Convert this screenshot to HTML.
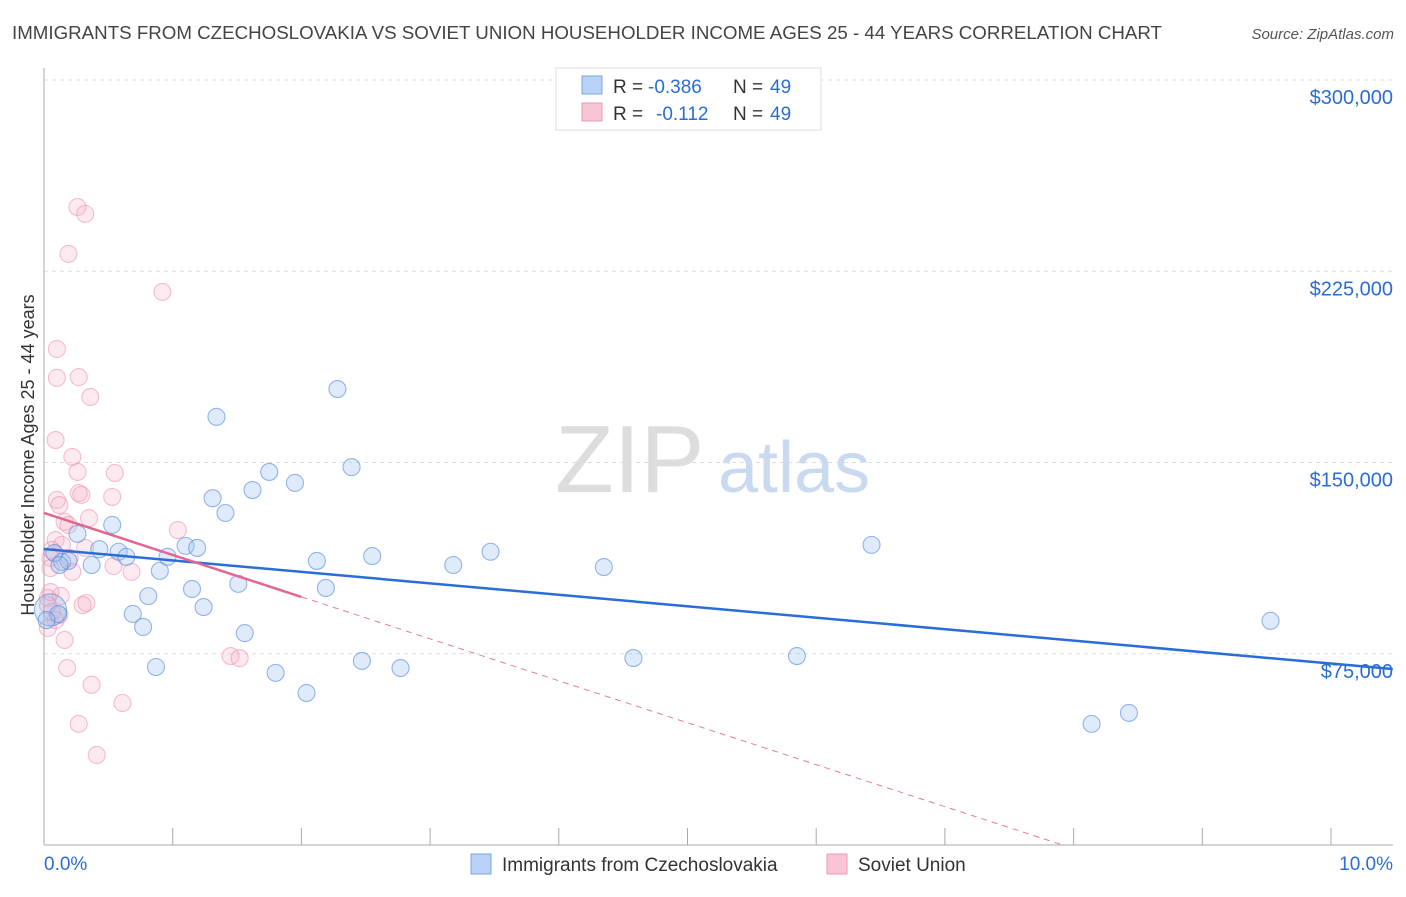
<!DOCTYPE html>
<html><head><meta charset="utf-8"><style>
body{margin:0;background:#fff;font-family:"Liberation Sans",sans-serif;}
svg text{font-family:"Liberation Sans",sans-serif;}
</style></head><body>
<svg id="c" width="1406" height="892" xmlns="http://www.w3.org/2000/svg">
<text x="12" y="39" font-size="18" fill="#444" textLength="1150" lengthAdjust="spacingAndGlyphs">IMMIGRANTS FROM CZECHOSLOVAKIA VS SOVIET UNION HOUSEHOLDER INCOME AGES 25 - 44 YEARS CORRELATION CHART</text>
<text x="1394" y="39" font-size="15" fill="#555" text-anchor="end" font-style="italic">Source: ZipAtlas.com</text>
<text x="555" y="492" font-size="96" fill="#ddd" font-family="Liberation Serif">ZIP</text>
<text x="718" y="492" font-size="72" fill="#c9daf0">atlas</text>
<text transform="translate(34,455) rotate(-90)" font-size="18" fill="#333" text-anchor="middle">Householder Income Ages 25 - 44 years</text>
<g id="grid"></g><g id="marks"></g>
<g>
<rect x="556" y="68" width="265" height="62" fill="#fff" stroke="#ddd"/>
<rect x="582" y="76" width="20" height="18" fill="#b8d3f5" stroke="#7aa6e0"/>
<rect x="582" y="103" width="20" height="18" fill="#f9c5d5" stroke="#eb9ab4"/>
<text x="613" y="93" font-size="19" fill="#333">R =</text>
<text x="648" y="93" font-size="19" fill="#2a6dd6">-0.386</text>
<text x="733" y="93" font-size="19" fill="#333">N =</text>
<text x="770" y="93" font-size="19" fill="#2a6dd6">49</text>
<text x="613" y="120" font-size="19" fill="#333">R =</text>
<text x="656" y="120" font-size="19" fill="#2a6dd6">-0.112</text>
<text x="733" y="120" font-size="19" fill="#333">N =</text>
<text x="770" y="120" font-size="19" fill="#2a6dd6">49</text>
</g>
<g>
<rect x="471" y="854" width="20" height="20" fill="#b8d3f5" stroke="#7aa6e0"/>
<text x="502" y="871" font-size="19" fill="#333">Immigrants from Czechoslovakia</text>
<rect x="827" y="854" width="20" height="20" fill="#f9c5d5" stroke="#eb9ab4"/>
<text x="858" y="871" font-size="19" fill="#333">Soviet Union</text>
</g>
</svg>
<script>
const blueX=[0.08,0.14,0.19,0.26,0.37,0.43,0.53,0.58,0.64,0.69,0.77,0.81,0.87,0.90,0.96,1.10,1.15,1.19,1.24,1.31,1.34,1.41,1.51,1.56,1.62,1.75,1.80,1.95,2.04,2.12,2.19,2.28,2.39,2.47,2.55,2.77,3.18,3.47,4.35,4.58,5.85,6.43,8.14,8.43,9.53,0.05,0.11,0.02,0.12];
const blueY=[114.5,111,111.4,122,109.8,116,125.5,115,113,90.6,85.5,97.6,69.8,107.5,113,117.3,100.4,116.5,93.3,136,167.9,130.2,102.4,83.1,139.2,146.3,67.5,142,59.6,111.4,100.8,178.8,148.2,72.2,113.3,69.4,109.8,115,109,73.3,74.1,117.7,47.5,51.8,87.9,92.2,90.6,88.2,109.8];
const pinkX=[0.26,0.32,0.19,0.92,0.10,0.10,0.27,0.36,0.09,0.22,0.26,0.55,0.10,0.12,0.27,0.53,0.29,0.35,0.16,0.19,1.04,0.09,0.14,0.32,0.06,0.05,0.20,0.05,0.22,0.54,0.68,0.03,0.13,0.33,0.30,0.03,0.06,0.12,0.03,0.16,0.18,1.45,1.52,0.37,0.61,0.27,0.41,0.05,0.09];
const pinkY=[250.2,247.5,231.8,216.9,194.5,183.2,183.5,175.7,158.8,152.2,146.3,145.9,135.3,133.3,138,136.5,137.3,128.2,126.7,125.5,123.5,119.6,117.7,116.5,115.7,112.6,112.6,108.6,107.1,109.4,107.1,96.9,97.7,94.9,94.1,94.1,91.4,90.2,85.1,80.4,69.4,74.1,73.3,62.8,55.7,47.5,35.3,99.2,88.2];
const yTicks=[75,150,225,300];
const yTickLabels=["$75,000","$150,000","$225,000","$300,000"];
const xTicks=[0,1,2,3,4,5,6,7,8,9,10];
const blueTrend=[116.1,69];   // at x=0 and x=10.48
const pinkTrend=[130.2,97.3]; // at x=0 and x=2.0
const sx=v=>44+v*128.7;
const sy=v=>845-v*765/300;
const NS="http://www.w3.org/2000/svg";
const grid=document.getElementById('grid'),marks=document.getElementById('marks');
function mk(p,tag,a){const e=document.createElementNS(NS,tag);for(const k in a)e.setAttribute(k,a[k]);p.appendChild(e);return e;}
yTicks.forEach((t,i)=>{
 const l=mk(grid,'line',{x1:44,x2:1393,y1:sy(t),y2:sy(t),stroke:'#ddd','stroke-dasharray':'4,4'});
 
 
 const tx=mk(grid,'text',{x:1393,y:sy(t)+24,'font-size':20,fill:'#2a6dd6','text-anchor':'end'});
 tx.textContent=yTickLabels[i];
 
 
});
const ax=mk(grid,'line',{x1:44,x2:44,y1:68,y2:845,stroke:'#aaa'});


const bx=mk(grid,'line',{x1:44,x2:1393,y1:845,y2:845,stroke:'#aaa'});


xTicks.forEach(t=>{const l=mk(grid,'line',{x1:sx(t),x2:sx(t),y1:828,y2:845,stroke:'#aaa'});
 
 });
const x0=mk(grid,'text',{x:44,y:870,'font-size':19,fill:'#2a6dd6'});x0.textContent='0.0%';


const x1=mk(grid,'text',{x:1393,y:870,'font-size':19,fill:'#2a6dd6','text-anchor':'end'});x1.textContent='10.0%';


pinkX.forEach((x,i)=>{const c=mk(marks,'circle',{cx:sx(x),cy:sy(pinkY[i]),r:8.5,fill:'rgba(245,170,195,0.25)',stroke:'rgba(235,140,170,0.55)','stroke-width':1.1});
 
 });
blueX.forEach((x,i)=>{const c=mk(marks,'circle',{cx:sx(x),cy:sy(blueY[i]),r:i==45?16:8.5,fill:'rgba(150,190,240,0.3)',stroke:'rgba(80,135,220,0.6)','stroke-width':1.1});
 
 });
const ps=(pinkTrend[1]-pinkTrend[0])/2.0;const pz=-pinkTrend[0]/ps;
const pd=mk(marks,'line',{x1:sx(2),y1:sy(pinkTrend[1]),x2:sx(pz),y2:sy(0),stroke:'#e87aa0','stroke-width':1,'stroke-dasharray':'6,5'});


const bl=mk(marks,'line',{x1:sx(0),y1:sy(blueTrend[0]),x2:sx(10.48),y2:sy(blueTrend[1]),stroke:'#2a6dd6','stroke-width':2.5});


const pl=mk(marks,'line',{x1:sx(0),y1:sy(pinkTrend[0]),x2:sx(2),y2:sy(pinkTrend[1]),stroke:'#e3668f','stroke-width':2.5});


</script>
</body></html>
